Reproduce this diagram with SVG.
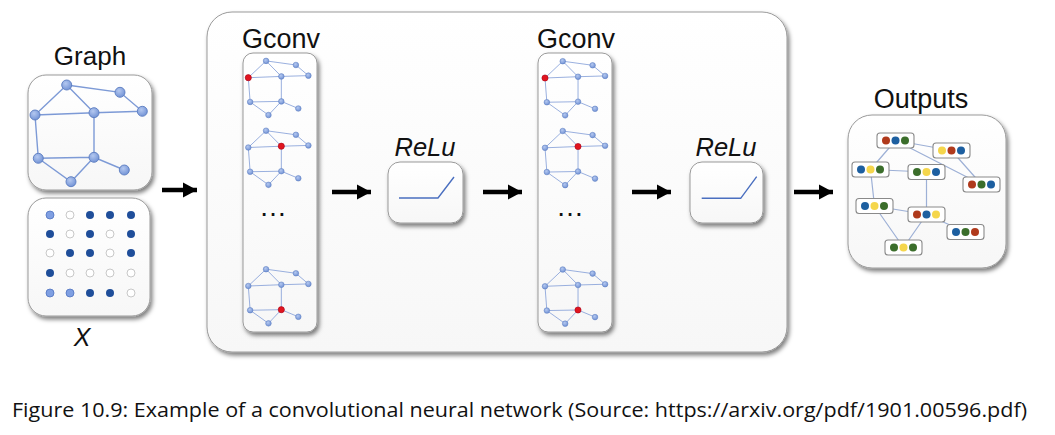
<svg xmlns="http://www.w3.org/2000/svg" xmlns:xlink="http://www.w3.org/1999/xlink" width="1055" height="435" viewBox="0 0 1055 435">
<defs>
<style>
.lbl{font-family:"Liberation Sans",Arial,sans-serif;fill:#111;text-anchor:middle}
.it{font-style:italic}
.box{fill:url(#boxfill);stroke:#9a9a9a;stroke-width:1;filter:url(#sh)}
.e{stroke:#7d9ad6;stroke-width:1.4;fill:none}
.n{fill:url(#nodefill);stroke:#5a7cc0;stroke-width:0.9}
.red{fill:#e0151f;stroke:#b00010;stroke-width:0.5}
.arr{stroke:#000;stroke-width:4.5;marker-end:url(#ah)}
.dk{fill:#1f4e9a}
.wh{fill:#fff;stroke:#c8c8c8;stroke-width:1}
.lt{fill:#7f9fe2;stroke:#4f72c0;stroke-width:0.8}
.oe{stroke:#9db0d6;stroke-width:1.2;fill:none}
.ob{fill:#fff;stroke:#8a8a8a;stroke-width:1.1}
.r{fill:#b03a1c}.b{fill:#1d5fa0}.g{fill:#3b6e2b}.y{fill:#f5d64c}
.relu{stroke:#4a6fc0;stroke-width:1.4;fill:none}
</style>
<linearGradient id="boxfill" x1="0" y1="0" x2="0" y2="1">
<stop offset="0" stop-color="#ffffff"/><stop offset="1" stop-color="#f7f7f7"/>
</linearGradient>
<radialGradient id="nodefill" cx="0.4" cy="0.35" r="0.7">
<stop offset="0" stop-color="#b4c8f0"/><stop offset="1" stop-color="#6f90d4"/>
</radialGradient>
<filter id="sh" x="-20%" y="-20%" width="140%" height="140%">
<feDropShadow dx="2" dy="3" stdDeviation="2" flood-color="#000" flood-opacity="0.5"/>
</filter>
<marker id="ah" markerUnits="userSpaceOnUse" markerWidth="16" markerHeight="18" refX="14" refY="9" orient="auto">
<path d="M0,1.5 L14,9 L0,16.5 Z" fill="#000"/>
</marker>
<g id="graph">
<path class="e" d="M31.7,-30 L85,-22.7 L107.3,-3.7 M31.7,-30 L0,0 M31.7,-30 L59,-2.3 M0,0 L59,-2.3 L107.3,-3.7 M0,0 L3.3,43.3 L59,42.3 L89.3,55 M59,-2.3 L59,42.3 M3.3,43.3 L36,66.7 L59,42.3"/>
<circle class="n" cx="31.7" cy="-30" r="5"/>
<circle class="n" cx="85" cy="-22.7" r="5"/>
<circle class="n" cx="107.3" cy="-3.7" r="5"/>
<circle class="n" cx="59" cy="-2.3" r="5"/>
<circle class="n" cx="0" cy="0" r="5"/>
<circle class="n" cx="3.3" cy="43.3" r="5"/>
<circle class="n" cx="59" cy="42.3" r="5"/>
<circle class="n" cx="89.3" cy="55" r="5"/>
<circle class="n" cx="36" cy="66.7" r="5"/>
</g>
</defs>
<rect width="1055" height="435" fill="#fff"/>

<g id="node-graph">
<text class="lbl" x="90" y="65" font-size="26">Graph</text>
<rect class="box" x="28" y="75" width="124" height="115" rx="18"/>
<use xlink:href="#graph" transform="translate(35,115)"/>
</g>

<g id="node-x">
<rect class="box" x="28" y="198" width="122" height="118" rx="18"/>
<circle class="lt" cx="50" cy="215" r="4"/><circle class="wh" cx="70" cy="215" r="4"/><circle class="dk" cx="90" cy="215" r="4"/><circle class="dk" cx="110" cy="215" r="4"/><circle class="dk" cx="131" cy="215" r="4"/>
<circle class="dk" cx="50" cy="234" r="4"/><circle class="wh" cx="70" cy="234" r="4"/><circle class="dk" cx="90" cy="234" r="4"/><circle class="wh" cx="110" cy="234" r="4"/><circle class="dk" cx="131" cy="234" r="4"/>
<circle class="wh" cx="50" cy="253" r="4"/><circle class="dk" cx="70" cy="253" r="4"/><circle class="dk" cx="90" cy="253" r="4"/><circle class="wh" cx="110" cy="253" r="4"/><circle class="dk" cx="131" cy="253" r="4"/>
<circle class="dk" cx="50" cy="273" r="4"/><circle class="wh" cx="70" cy="273" r="4"/><circle class="wh" cx="90" cy="273" r="4"/><circle class="wh" cx="110" cy="273" r="4"/><circle class="wh" cx="131" cy="273" r="4"/>
<circle class="lt" cx="50" cy="293" r="4"/><circle class="lt" cx="70" cy="293" r="4"/><circle class="dk" cx="90" cy="293" r="4"/><circle class="dk" cx="110" cy="293" r="4"/><circle class="wh" cx="131" cy="293" r="4"/>
<text class="lbl it" x="82" y="346" font-size="25">X</text>
</g>

<g id="node-network">
<rect class="box" x="207" y="12" width="580" height="340" rx="25"/>
</g>

<g id="node-gconv1">
<text class="lbl" x="281" y="48" font-size="27">Gconv</text>
<rect class="box" x="243" y="53" width="74" height="279" rx="10"/>
<use xlink:href="#graph" transform="translate(248.3,77.7) scale(0.56)"/>
<circle class="red" cx="248.3" cy="77.7" r="3.1"/>
<use xlink:href="#graph" transform="translate(248.3,147.5) scale(0.56)"/>
<circle class="red" cx="281.3" cy="146.2" r="3.1"/>
<text class="lbl" x="273" y="216" font-size="28">…</text>
<use xlink:href="#graph" transform="translate(248.3,286) scale(0.56)"/>
<circle class="red" cx="281.3" cy="309.7" r="3.1"/>
</g>

<g id="node-relu1">
<text class="lbl it" x="425" y="156" font-size="25.5">ReLu</text>
<rect class="box" x="388" y="162" width="75" height="61" rx="12"/>
<path class="relu" d="M399,198 L438,198 L454,177"/>
</g>

<g id="node-gconv2">
<text class="lbl" x="576" y="48" font-size="27">Gconv</text>
<rect class="box" x="538" y="53" width="74" height="279" rx="10"/>
<use xlink:href="#graph" transform="translate(545,78) scale(0.56)"/>
<circle class="red" cx="545" cy="78" r="3.1"/>
<use xlink:href="#graph" transform="translate(545,147.8) scale(0.56)"/>
<circle class="red" cx="578" cy="146.5" r="3.1"/>
<text class="lbl" x="570" y="216" font-size="28">…</text>
<use xlink:href="#graph" transform="translate(545,286.3) scale(0.56)"/>
<circle class="red" cx="578" cy="310" r="3.1"/>
</g>

<g id="node-relu2">
<text class="lbl it" x="726" y="156" font-size="25.5">ReLu</text>
<rect class="box" x="690" y="162" width="73" height="61" rx="12"/>
<path class="relu" d="M701.7,198.3 L740.7,198.3 L756.7,176.7"/>
</g>

<g id="node-outputs">
<text class="lbl" x="921" y="108" font-size="27">Outputs</text>
<rect class="box" x="848" y="115" width="158" height="153" rx="24"/>
<path class="oe" d="M895.5,140.5 L951.5,150.5 M895.5,140.5 L870.5,169.5 M895.5,140.5 L981.5,184.5 M951.5,150.5 L981.5,184.5 M870.5,169.5 L926.5,172 M870.5,169.5 L874.5,206 M926.5,172 L926.5,214.5 M874.5,206 L926.5,214.5 M874.5,206 L903.5,247.5 M926.5,214.5 L903.5,247.5 M926.5,214.5 L965.5,232"/>
<rect class="ob" x="877" y="133" width="37" height="15" rx="3"/><circle class="r" cx="886" cy="140.5" r="4"/><circle class="b" cx="895.5" cy="140.5" r="4"/><circle class="g" cx="905" cy="140.5" r="4"/>
<rect class="ob" x="933" y="143" width="37" height="15" rx="3"/><circle class="y" cx="942" cy="150.5" r="4"/><circle class="r" cx="951.5" cy="150.5" r="4"/><circle class="b" cx="961" cy="150.5" r="4"/>
<rect class="ob" x="852" y="162" width="37" height="15" rx="3"/><circle class="b" cx="861" cy="169.5" r="4"/><circle class="y" cx="870.5" cy="169.5" r="4"/><circle class="g" cx="880" cy="169.5" r="4"/>
<rect class="ob" x="908" y="164.5" width="37" height="15" rx="3"/><circle class="g" cx="917" cy="172" r="4"/><circle class="y" cx="926.5" cy="172" r="4"/><circle class="b" cx="936" cy="172" r="4"/>
<rect class="ob" x="963" y="177" width="37" height="15" rx="3"/><circle class="r" cx="972" cy="184.5" r="4"/><circle class="g" cx="981.5" cy="184.5" r="4"/><circle class="b" cx="991" cy="184.5" r="4"/>
<rect class="ob" x="856" y="198.5" width="37" height="15" rx="3"/><circle class="b" cx="865" cy="206" r="4"/><circle class="y" cx="874.5" cy="206" r="4"/><circle class="g" cx="884" cy="206" r="4"/>
<rect class="ob" x="908" y="207" width="37" height="15" rx="3"/><circle class="r" cx="917" cy="214.5" r="4"/><circle class="b" cx="926.5" cy="214.5" r="4"/><circle class="y" cx="936" cy="214.5" r="4"/>
<rect class="ob" x="947" y="224.5" width="37" height="15" rx="3"/><circle class="b" cx="956" cy="232" r="4"/><circle class="g" cx="965.5" cy="232" r="4"/><circle class="r" cx="975" cy="232" r="4"/>
<rect class="ob" x="885" y="240" width="37" height="15" rx="3"/><circle class="g" cx="894" cy="247.5" r="4"/><circle class="y" cx="903.5" cy="247.5" r="4"/><circle class="g" cx="913" cy="247.5" r="4"/>
</g>

<g id="connectors">
<line class="arr" x1="162" y1="190" x2="197" y2="190"/>
<line class="arr" x1="332" y1="192" x2="371" y2="192"/>
<line class="arr" x1="483" y1="192" x2="522" y2="192"/>
<line class="arr" x1="632" y1="192" x2="671" y2="192"/>
<line class="arr" x1="794" y1="192" x2="833" y2="192"/>
</g>

<text x="12" y="417" font-family="'Open Sans','Liberation Sans',sans-serif" font-size="20.5" fill="#111" textLength="1015" lengthAdjust="spacingAndGlyphs">Figure 10.9: Example of a convolutional neural network (Source: https://arxiv.org/pdf/1901.00596.pdf)</text>
</svg>
